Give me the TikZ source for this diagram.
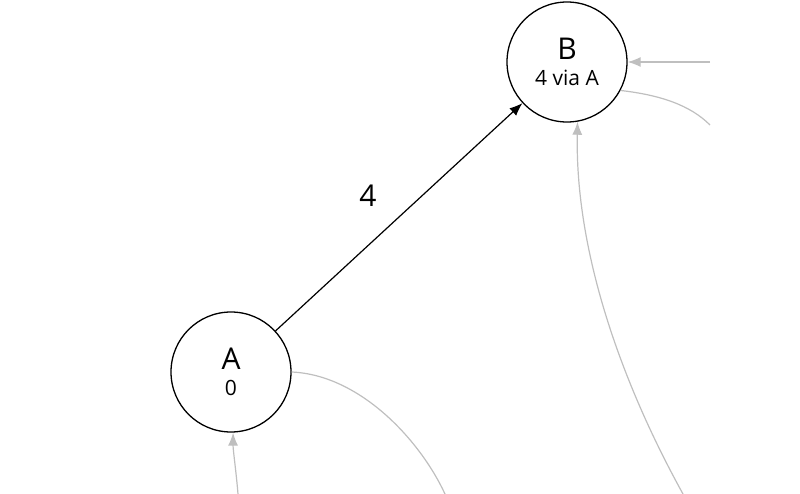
\documentclass[tikz,border=0pt]{standalone}
\usepackage{fontspec}
\setmainfont{Open Sans}
\usetikzlibrary{arrows.meta}
\begin{document}
\begin{tikzpicture}[x=1pt,y=-1pt,
  vtx/.style={circle,draw=black,line width=1.3pt,minimum size=120pt,inner sep=0pt,align=center,fill=white},
  edge/.style={draw=black,line width=1.2pt,-{Latex[length=13pt,width=10pt]}},
  ghost/.style={draw=black!25,line width=1.2pt},
  gharrow/.style={ghost,-{Latex[length=13pt,width=10pt]}}]
\useasboundingbox (0,0) rectangle (800,494);
\node[vtx] (A) at (231,372) {\fontsize{30}{32}\selectfont A\\[10pt]\fontsize{21}{24}\selectfont 0};
\node[vtx] (B) at (567,62) {\fontsize{30}{32}\selectfont B\\[10pt]\fontsize{21}{24}\selectfont 4 via A};
\draw[edge] (A) -- (B);
\node[font=\fontsize{30}{32}\selectfont] (w) at (368,196) {4};
\coordinate (r1) at (710,62);
\coordinate (r2) at (710,125);
\coordinate (b1) at (683,494);
\coordinate (a1) at (445,494);
\coordinate (a2) at (238,494);
\draw[gharrow] (r1) -- (B);
\draw[ghost] (B.-28) .. controls (660,95) and (690,105) .. (r2);
\draw[gharrow] (b1) .. controls (620,380) and (575,250) .. (B.-80);
\draw[ghost] (A.0) .. controls (360,375) and (420,440) .. (a1);
\draw[gharrow] (a2) .. controls (236,470) and (233,450) .. (A.-88);
\end{tikzpicture}
\end{document}
